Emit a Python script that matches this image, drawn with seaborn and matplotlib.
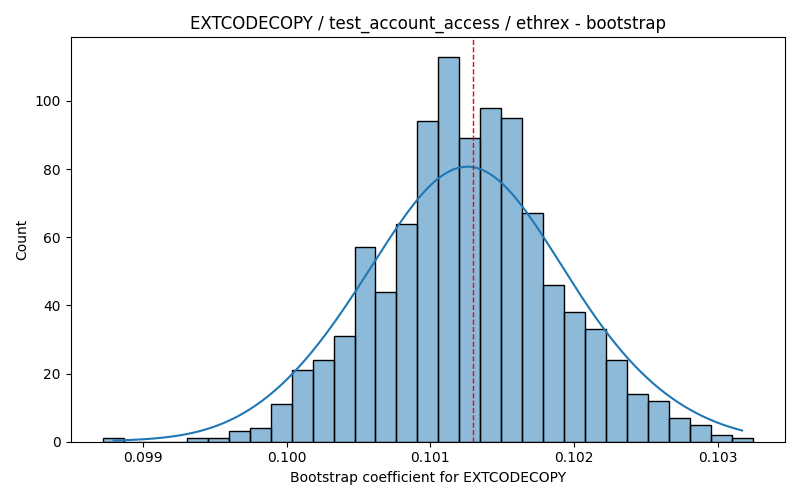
import numpy as np
import pandas as pd
import matplotlib
matplotlib.use("Agg")
import matplotlib.pyplot as plt
import seaborn as sns

# bin counts
counts = [1, 0, 0, 0, 1, 1, 3, 4, 11, 21, 24, 31, 57, 44, 64, 94, 113,
          89, 98, 95, 67, 46, 38, 33, 24, 14, 12, 7, 5, 2, 1]
x_min = 0.098722
x_max = 0.103243
estimate = 0.101299

width = (x_max - x_min) / len(counts)
centers = x_min + width * (np.arange(len(counts)) + 0.5)
df = pd.DataFrame({"coef": centers, "n": counts})

fig, ax = plt.subplots(figsize=(8, 5), dpi=100)
sns.histplot(data=df, x="coef", weights="n", bins=len(counts),
             binrange=(x_min, x_max), kde=True,
             kde_kws={"bw_adjust": 1.1}, ax=ax)
ax.axvline(estimate, color="red", linestyle="--", linewidth=1)
ax.set_title("EXTCODECOPY / test_account_access / ethrex - bootstrap")
ax.set_xlabel("Bootstrap coefficient for EXTCODECOPY")
ax.set_ylabel("Count")
ax.set_xticks([0.099, 0.100, 0.101, 0.102, 0.103])
ax.set_xticklabels(["0.099", "0.100", "0.101", "0.102", "0.103"])
plt.tight_layout()
plt.savefig("out.png")
